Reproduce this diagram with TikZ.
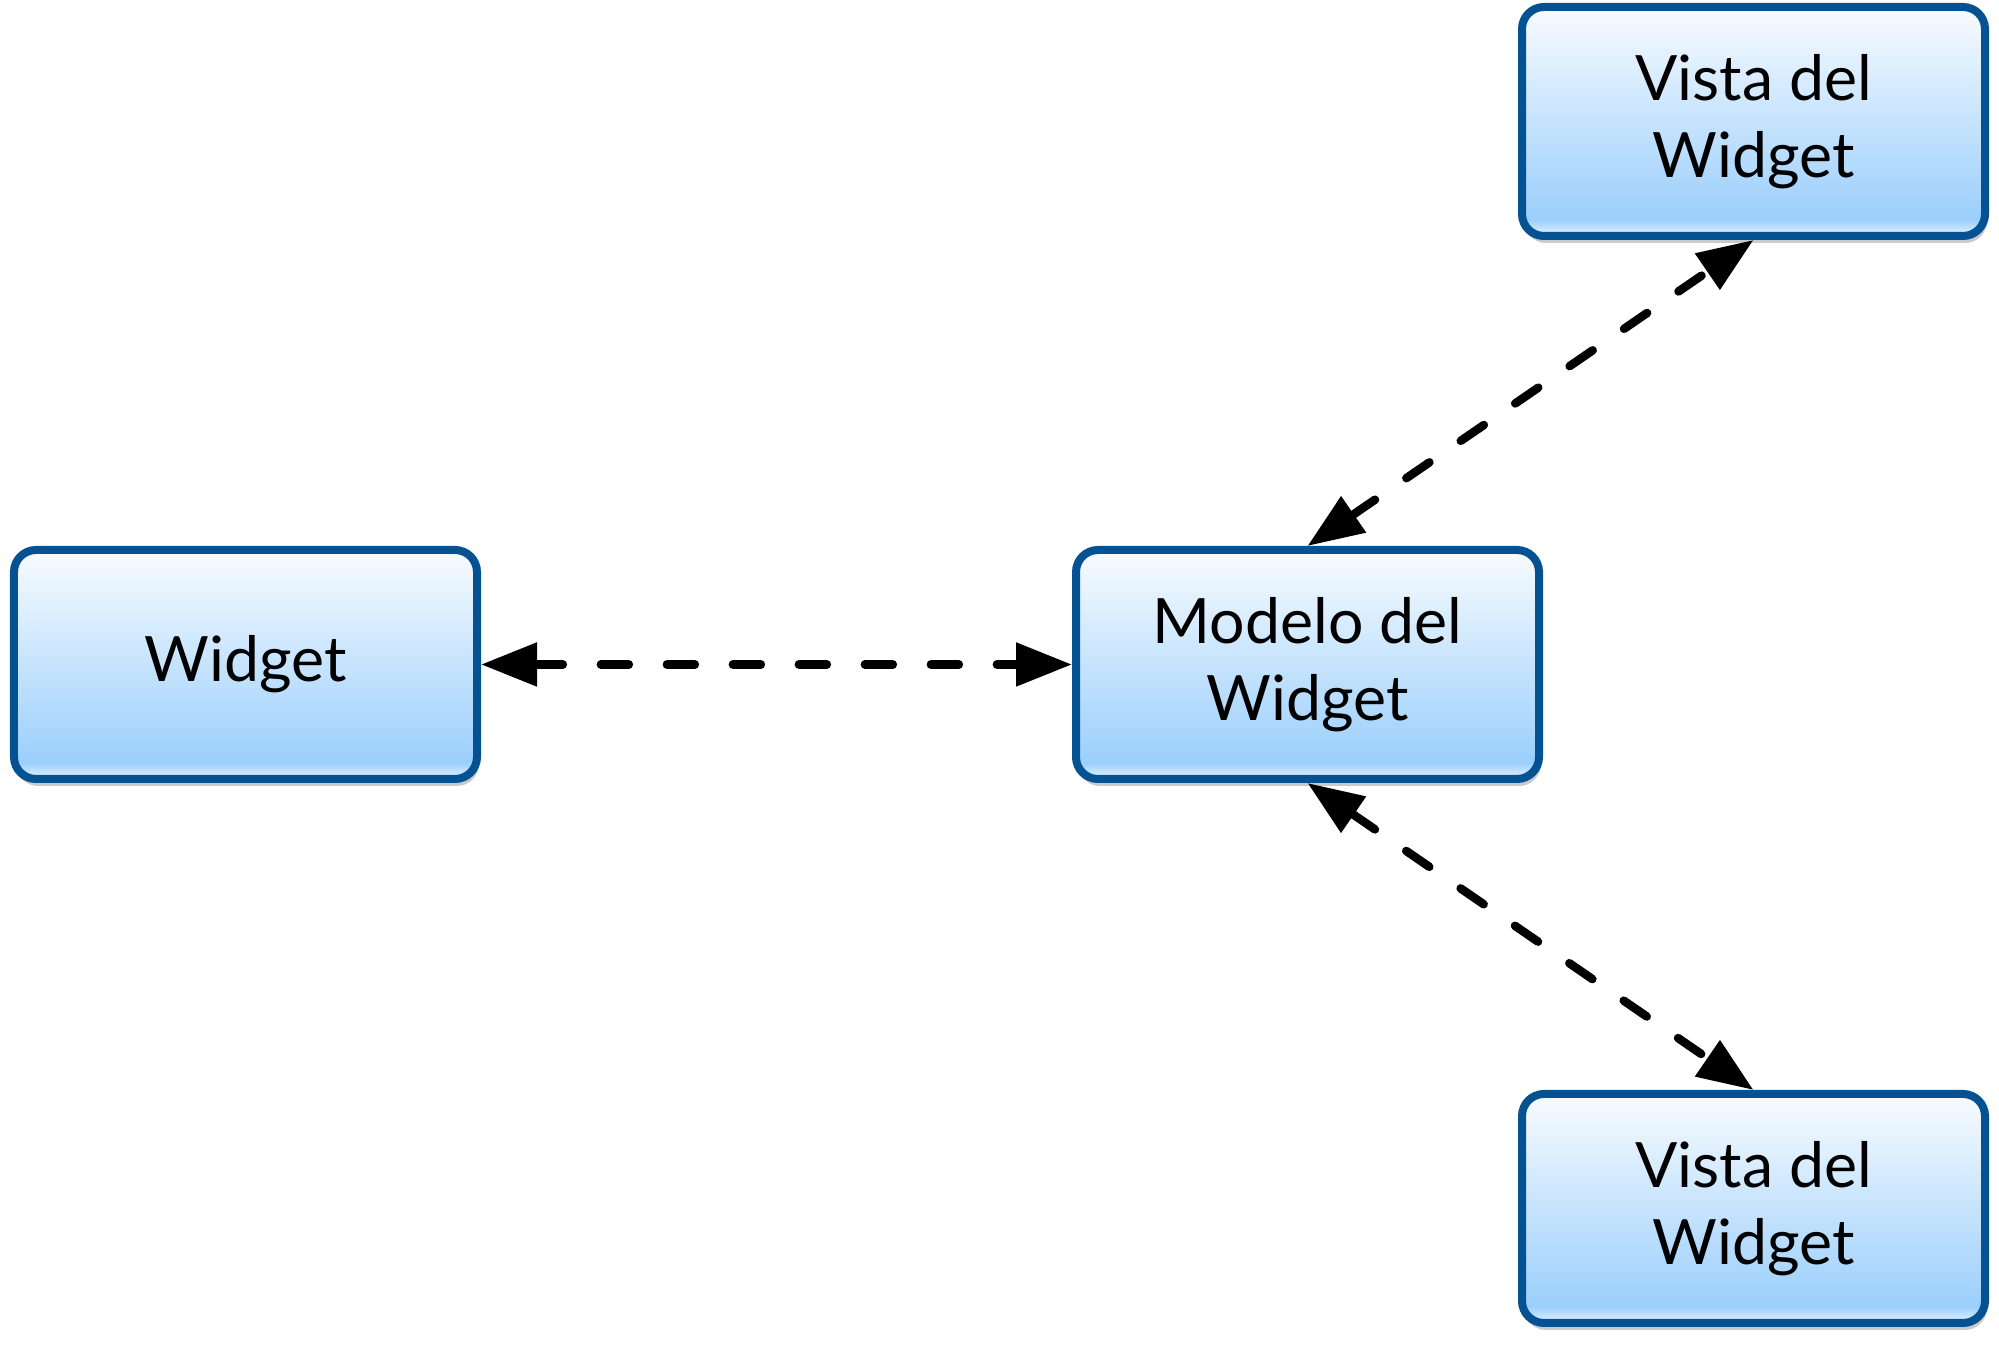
\documentclass[tikz,border=0pt]{standalone}
\usepackage{fontspec}
\setmainfont{Lato}
\usetikzlibrary{arrows.meta, positioning, shadows}

\definecolor{boxedge}{RGB}{4,82,146}
\definecolor{glosstop}{RGB}{248,251,255}
\definecolor{glossmid}{RGB}{155,207,252}
\definecolor{glosslow}{RGB}{232,244,255}
\pgfdeclareverticalshading{glossy}{100bp}{color(0bp)=(glosslow); color(25bp)=(glosslow); color(28.5bp)=(glossmid); color(75bp)=(glosstop); color(100bp)=(glosstop)}

\begin{document}
\begin{tikzpicture}[
    font=\fontsize{17.8}{22}\selectfont,
    % boxes and links
    box/.style={rectangle, draw=boxedge, line width=0.08cm, rounded corners=0.22cm, shade, shading=glossy, minimum width=4.63cm, minimum height=2.29cm, align=center, inner sep=0pt, drop shadow={opacity=0.35, fill=black!60, shadow xshift=0.02cm, shadow yshift=-0.07cm}},
    link/.style={{Triangle[length=0.56cm,width=0.42cm]}-{Triangle[length=0.56cm,width=0.42cm]}, line width=0.085cm, line cap=round, dash pattern=on 0.28cm off 0.38cm}
]
\useasboundingbox (0,0) rectangle (19.99,13.45);

\node[box] (widget) at (2.455,6.805) {Widget};
\node[box, right=5.91cm of widget] (modelo) {Modelo del\\Widget};
\node[box, above=3.06cm of modelo, xshift=4.46cm] (vista1) {Vista del\\Widget};
\node[box, below=3.07cm of modelo, xshift=4.46cm] (vista2) {Vista del\\Widget};

% connections
\draw[link] (widget) -- (modelo);
\draw[link] (modelo.north) -- (vista1.south);
\draw[link] (modelo.south) -- (vista2.north);

\end{tikzpicture}
\end{document}
